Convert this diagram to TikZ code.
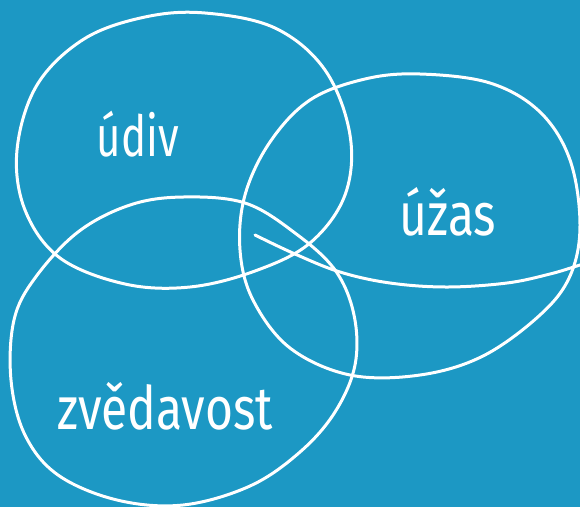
\documentclass[tikz,border=0pt]{standalone}
\usepackage{fontspec}
\setmainfont{Fira Sans}
\definecolor{bg}{RGB}{28,152,196}
\begin{document}
\begin{tikzpicture}[x=1pt,y=-1pt,
  stroke/.style={draw=white,line width=3pt,line cap=round,line join=round},
  lbl/.style={text=white,inner sep=0pt}]
\fill[bg] (0,0) rectangle (580,507);
\useasboundingbox (0,0) rectangle (580,507);
\clip (0,0) rectangle (580,507);
% udiv loop
\draw[stroke] plot[smooth cycle, tension=0.6] coordinates {
 (205,13) (275,28) (325,70) (350,135) (345,195) (310,243) (255,271) (190,287)
 (125,284) (60,258) (25,210) (17,150) (37,85) (84,39) (145,17)};
% uzas loop
\draw[stroke] plot[smooth cycle, tension=0.6] coordinates {
 (420,74) (490,83) (540,112) (570,160) (580,225) (570,276) (540,315) (483,356)
 (420,375) (350,375) (290,348) (253,300) (240,250) (245,195) (270,142) (310,100) (365,79)};
% uzas tail
\draw[stroke] plot[smooth, tension=0.6] coordinates {
 (255,235) (295,254) (340,272) (390,283) (447,287) (507,283) (550,274) (580,265) (610,256)};
% zvedavost loop
\draw[stroke] plot[smooth cycle, tension=0.6] coordinates {
 (183,197) (245,203) (295,233) (335,270) (354,315) (355,365) (335,412) (300,452)
 (250,486) (183,505) (117,500) (58,475) (25,435) (11,380) (14,320) (35,278) (78,232) (130,205)};
\node[lbl] (udiv) at (138,134) {\scalebox{1}[1.35]{\fontsize{42}{42}\selectfont údiv}};
\node[lbl] (uzas) at (448,212) {\scalebox{1}[1.25]{\fontsize{48}{48}\selectfont úžas}};
\node[lbl] (zved) at (165,406) {\scalebox{1}[1.25]{\fontsize{48}{48}\selectfont zvědavost}};
\end{tikzpicture}
\end{document}
